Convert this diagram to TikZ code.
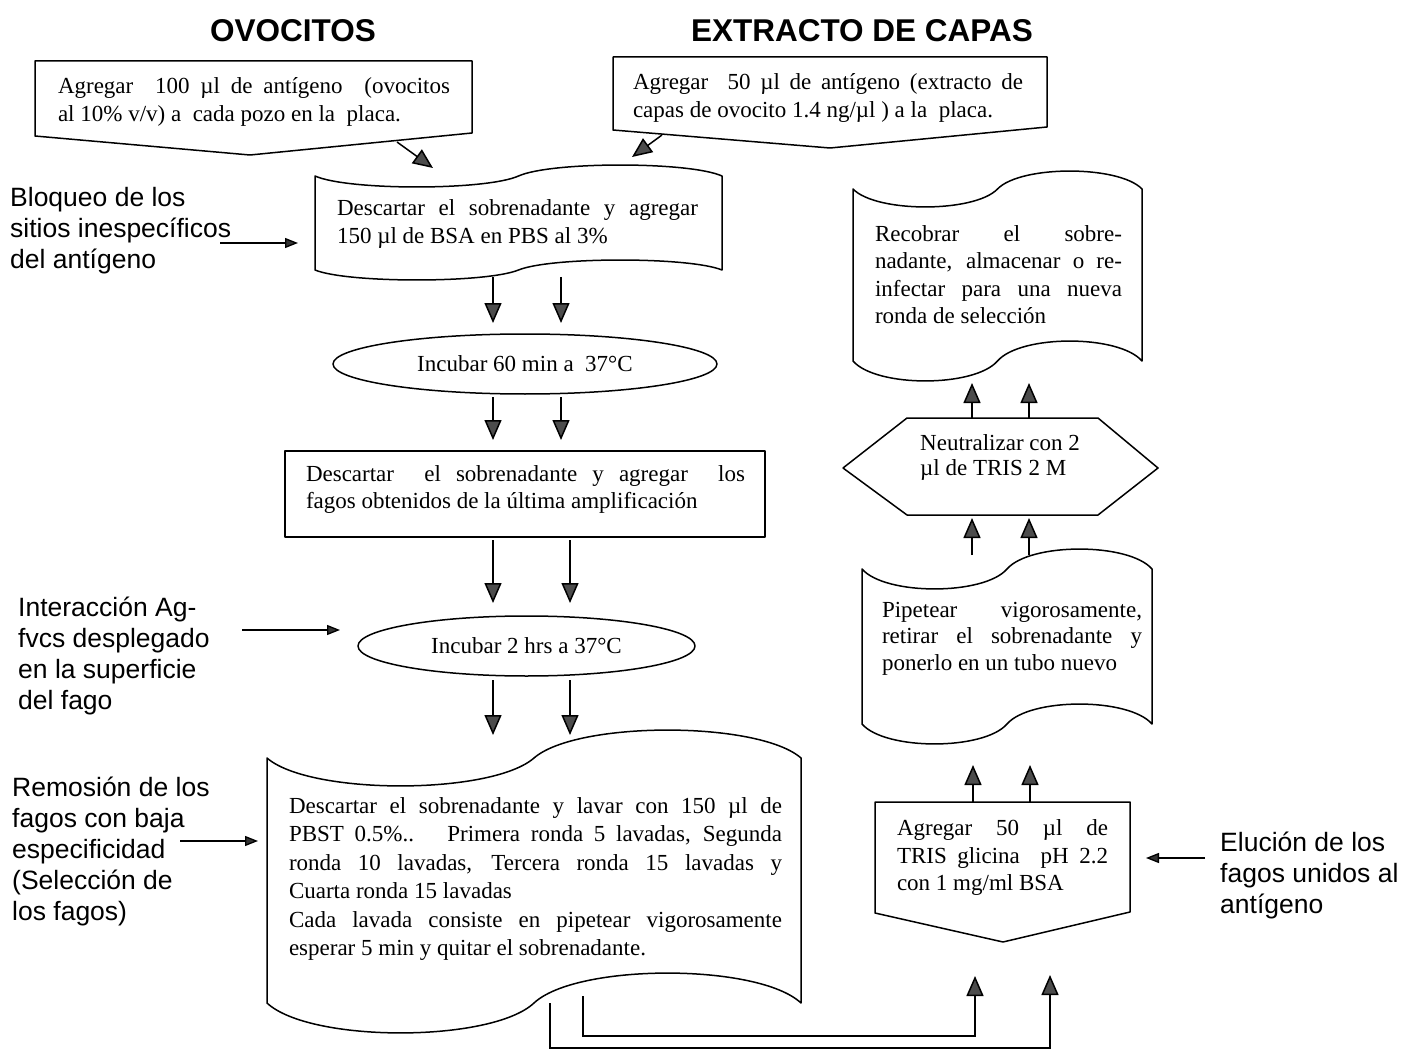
\documentclass[tikz,border=0pt]{standalone}
\usepackage{fontspec}
\setmainfont{Liberation Serif}
\newfontfamily\labelfont{Liberation Sans}
\usetikzlibrary{shapes.geometric,arrows.meta}

% Punched-tape box: left, right, top mid, top amplitude, bottom mid, bottom amplitude
\newcommand{\tapeshape}[6]{%
  \pgfmathsetmacro\tapew{#2-#1}%
  \draw[shp] (#1,#3)
    .. controls ({#1+0.08*\tapew},{#3+1.33*#4}) and ({#1+0.42*\tapew},{#3+1.33*#4}) .. ({#1+0.5*\tapew},#3)
    .. controls ({#1+0.58*\tapew},{#3-1.33*#4}) and ({#1+0.92*\tapew},{#3-1.33*#4}) .. (#2,#3)
    -- (#2,#5)
    .. controls ({#2-0.08*\tapew},{#5-1.33*#6}) and ({#2-0.42*\tapew},{#5-1.33*#6}) .. ({#1+0.5*\tapew},#5)
    .. controls ({#1+0.42*\tapew},{#5+1.33*#6}) and ({#1+0.08*\tapew},{#5+1.33*#6}) .. (#1,#5)
    -- cycle;}

\tikzset{
  shp/.style={draw, line width=1.5pt, line join=round},
  arr/.style={line width=1.5pt, -{Triangle[width=17pt,length=20pt,fill=black!70]}},
  sidearr/.style={line width=1.3pt, -{Triangle[width=10pt,length=13pt,fill=black!80]}},
  txt/.style={font=\fontsize{23}{28}\selectfont, inner sep=0pt, align=justify},
  lbl/.style={font=\labelfont\fontsize{26.5}{31}\selectfont, inner sep=0pt, align=left, anchor=west},
  ttl/.style={font=\labelfont\bfseries\fontsize{31.5}{36}\selectfont, inner sep=0pt}
}

\begin{document}
\begin{tikzpicture}[x=1pt,y=-1pt]
\useasboundingbox[fill=white] (0,0) rectangle (1401,1051);

% column titles
\node[ttl] (ttlA) at (293,31) {OVOCITOS};
\node[ttl] (ttlB) at (862,31) {EXTRACTO DE CAPAS};

% antigen boxes (off-page shape)
\draw[shp] (35,61) -- (472,61) -- (472,133) -- (250,155) -- (35,136) -- cycle;
\node[txt, text width=392pt] (agA) at (254,102)
  {Agregar \ 100 µl de antígeno \ (ovocitos\linebreak al 10\% v/v) a \ cada pozo en la \ placa.};
\draw[shp] (613,57) -- (1047,57) -- (1047,127) -- (830,148) -- (613,130) -- cycle;
\node[txt, text width=390pt] (agB) at (828,97.5)
  {Agregar \ 50 µl de antígeno (extracto de\linebreak capas de ovocito 1.4 ng/µl ) a la \ placa.};

% blocking step
\tapeshape{315}{722}{176}{11}{270}{10}
\node[txt, text width=361pt] (blk) at (517.5,223.5)
  {Descartar el sobrenadante y agregar\linebreak 150 µl de BSA en PBS al 3\%};

% first incubation
\node[shp, ellipse, minimum width=384pt, minimum height=60pt, inner sep=0pt,
      font=\fontsize{23}{28}\selectfont] (inc1) at (525,364) {Incubar 60 min a \ 37°C};

% phage addition
\node[shp, minimum width=480pt, minimum height=86pt, inner sep=0pt] (phg) at (525,494) {};
\node[txt, text width=439pt, font=\fontsize{23}{27}\selectfont] (phgT) at (525.5,489.5)
  {Descartar \ el sobrenadante y agregar \ los\linebreak fagos obtenidos de la última amplificación};

% second incubation
\node[shp, ellipse, minimum width=337pt, minimum height=60pt, inner sep=0pt,
      font=\fontsize{23}{28}\selectfont] (inc2) at (526.5,646) {Incubar 2 hrs a 37°C};

% washing step
\tapeshape{267}{801}{758}{28}{1003}{30}
\node[txt, text width=493pt, font=\fontsize{23}{28.4}\selectfont] (wash) at (535.5,879)
  {Descartar el sobrenadante y lavar con 150 µl de\linebreak
   PBST 0.5\%.. \ Primera ronda 5 lavadas, Segunda\linebreak
   ronda 10 lavadas, Tercera ronda 15 lavadas y\linebreak
   Cuarta ronda 15 lavadas\\
   Cada lavada consiste en pipetear vigorosamente\linebreak
   esperar 5 min y quitar el sobrenadante.};

% elution
\draw[shp] (875,802) -- (1130,802) -- (1130,912) -- (1003,942) -- (875,913) -- cycle;
\node[txt, text width=211pt, font=\fontsize{23}{27.5}\selectfont] (elu) at (1002.5,857.5)
  {Agregar 50 µl de\linebreak TRIS glicina \ pH 2.2\linebreak con 1 mg/ml BSA};

% pipetting
\tapeshape{862}{1152}{569}{20}{724}{20}
\node[txt, text width=260pt, font=\fontsize{23}{26.5}\selectfont] (pip) at (1012,638.5)
  {Pipetear vigorosamente,\linebreak retirar el sobrenadante y\linebreak ponerlo en un tubo nuevo};

% neutralisation
\draw[shp] (843,468) -- (907,418) -- (1098,418) -- (1158,468) -- (1098,515) -- (907,515) -- cycle;
\node[txt, align=left, anchor=west, font=\fontsize{23}{25}\selectfont] (neu) at (920,457.5)
  {Neutralizar con 2\\µl de TRIS 2 M};

% recovery
\tapeshape{853}{1142}{189}{18}{361}{20}
\node[txt, text width=247pt, font=\fontsize{23}{27.5}\selectfont] (rec) at (998.5,274.5)
  {Recobrar el sobre-\linebreak nadante, almacenar o re-\linebreak infectar para una nueva\linebreak ronda de selección};

% side labels
\node[lbl] (lbA) at (10,231) {Bloqueo de los\\sitios inespecíficos\\del antígeno};
\node[lbl] (lbB) at (18,655.5) {Interacción Ag-\\fvcs desplegado\\en la superficie\\del fago};
\node[lbl] (lbC) at (12,851) {Remosión de los\\fagos con baja\\especificidad\\(Selección de\\los fagos)};
\node[lbl] (lbD) at (1220,875.5) {Elución de los\\fagos unidos al\\antígeno};

% connector end points
\coordinate (agA-o) at (397,142);  \coordinate (blk-iA) at (433,168);
\coordinate (agB-o) at (662,135);  \coordinate (blk-iB) at (632,157);
\coordinate (blk-o1) at (493,277); \coordinate (inc1-i1) at (493,323);
\coordinate (blk-o2) at (561,277); \coordinate (inc1-i2) at (561,323);
\coordinate (inc1-o1) at (493,397); \coordinate (phg-i1) at (493,440);
\coordinate (inc1-o2) at (561,397); \coordinate (phg-i2) at (561,440);
\coordinate (phg-o1) at (493,540); \coordinate (inc2-i1) at (493,603);
\coordinate (phg-o2) at (570,540); \coordinate (inc2-i2) at (570,603);
\coordinate (inc2-o1) at (493,680); \coordinate (wash-i1) at (493,735);
\coordinate (inc2-o2) at (570,680); \coordinate (wash-i2) at (570,735);
\coordinate (wash-o1) at (583,996); \coordinate (elu-i1) at (975,976);
\coordinate (wash-o2) at (550,1003); \coordinate (elu-i2) at (1050,975);
\coordinate (elu-o1) at (973,802); \coordinate (pip-i1) at (973,765);
\coordinate (elu-o2) at (1030,802); \coordinate (pip-i2) at (1030,765);
\coordinate (pip-o1) at (972,555); \coordinate (neu-i1) at (972,518);
\coordinate (pip-o2) at (1029,555); \coordinate (neu-i2) at (1029,518);
\coordinate (neu-o1) at (972,418); \coordinate (rec-i1) at (972,383);
\coordinate (neu-o2) at (1029,418); \coordinate (rec-i2) at (1029,383);
\coordinate (lbA-o) at (220,243); \coordinate (lbA-t) at (298,243);
\coordinate (lbB-o) at (242,630); \coordinate (lbB-t) at (340,630);
\coordinate (lbC-o) at (180,841); \coordinate (lbC-t) at (258,841);
\coordinate (lbD-o) at (1205,858); \coordinate (lbD-t) at (1146,858);

% main flow
\draw[arr] (agA-o) -- (blk-iA);
\draw[arr] (agB-o) -- (blk-iB);
\draw[arr] (blk-o1) -- (inc1-i1);
\draw[arr] (blk-o2) -- (inc1-i2);
\draw[arr] (inc1-o1) -- (phg-i1);
\draw[arr] (inc1-o2) -- (phg-i2);
\draw[arr] (phg-o1) -- (inc2-i1);
\draw[arr] (phg-o2) -- (inc2-i2);
\draw[arr] (inc2-o1) -- (wash-i1);
\draw[arr] (inc2-o2) -- (wash-i2);
\draw[arr] (wash-o1) |- (975,1036) -- (elu-i1);
\draw[arr] (wash-o2) |- (1050,1048) -- (elu-i2);
\draw[arr] (elu-o1) -- (pip-i1);
\draw[arr] (elu-o2) -- (pip-i2);
\draw[arr] (pip-o1) -- (neu-i1);
\draw[arr] (pip-o2) -- (neu-i2);
\draw[arr] (neu-o1) -- (rec-i1);
\draw[arr] (neu-o2) -- (rec-i2);

% label pointers
\draw[sidearr] (lbA-o) -- (lbA-t);
\draw[sidearr] (lbB-o) -- (lbB-t);
\draw[sidearr] (lbC-o) -- (lbC-t);
\draw[sidearr] (lbD-o) -- (lbD-t);
\end{tikzpicture}
\end{document}
